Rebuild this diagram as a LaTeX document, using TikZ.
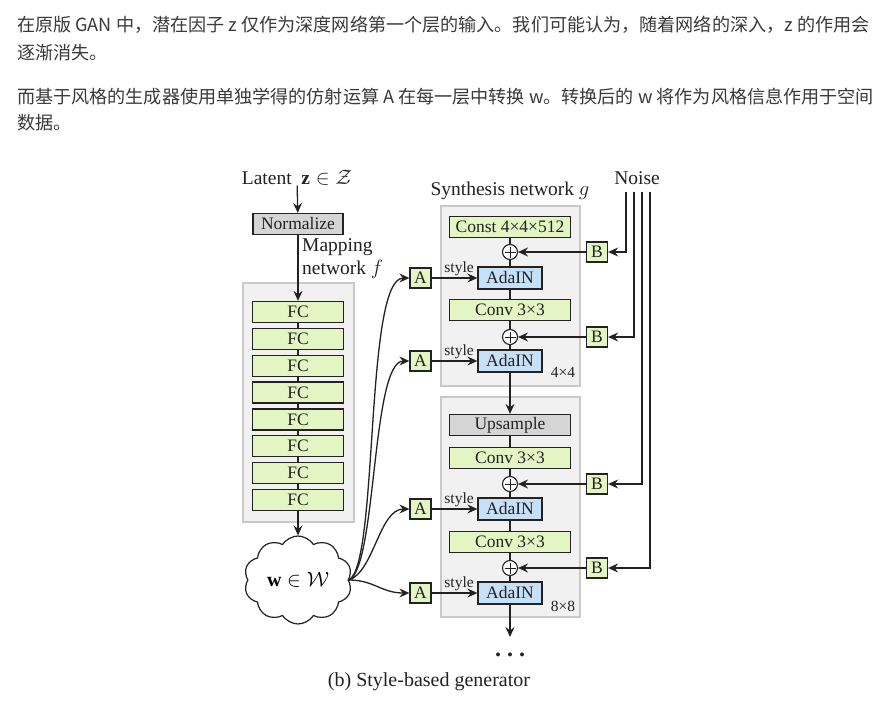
\documentclass[tikz,border=0pt]{standalone}
\usepackage{fontspec}
\setmainfont{Liberation Serif}
\newfontfamily\cjk{Noto Sans CJK SC}
\usepackage{amsmath}
\usepackage{amssymb}
\usetikzlibrary{positioning, calc, arrows.meta, shapes.symbols}

\begin{document}
\begin{tikzpicture}[
  x=1pt, y=-1pt,
  font=\fontsize{17.5}{20}\selectfont,
  arr/.style={-{Stealth[length=10pt, width=9pt, inset=3.5pt]}, line width=1.3pt, draw=cline},
  ln/.style={line width=1.3pt, draw=cline},
  blk/.style={draw=cline, line width=1.3pt, inner sep=0pt, minimum height=21pt, text=cline},
  fcblk/.style={blk, fill=cfc, minimum width=91pt},
  wideblk/.style={blk, fill=cfc, minimum width=121pt},
  adablk/.style={blk, fill=cada, minimum width=64pt, minimum height=22pt},
  grayblk/.style={blk, fill=cgray},
  affblk/.style={blk, fill=cfc, minimum width=21pt, minimum height=20pt},
  plusnode/.style={circle, draw=cline, fill=white, line width=1.1pt, minimum size=15pt, inner sep=0pt,
    path picture={
      \draw[cline, line width=0.9pt] ([xshift=-5.5pt]path picture bounding box.center) -- ([xshift=5.5pt]path picture bounding box.center);
      \draw[cline, line width=0.9pt] ([yshift=-5.5pt]path picture bounding box.center) -- ([yshift=5.5pt]path picture bounding box.center);
    }},
  panel/.style={fill=cpanel, draw=cpanelb, line width=1.4pt},
  lbl/.style={font=\fontsize{19.5}{23}\selectfont, inner sep=0pt, text=cline},
  small/.style={font=\fontsize{15.5}{17}\selectfont, inner sep=1.5pt, text=cline},
]
\definecolor{ctext}{HTML}{3A3A3A}   % page text
\definecolor{cline}{HTML}{222222}   % strokes
\definecolor{cfc}{HTML}{E3F5C2}     % green blocks
\definecolor{cada}{HTML}{C6E0F7}    % AdaIN blocks
\definecolor{cgray}{HTML}{D5D5D5}   % Normalize / Upsample
\definecolor{cpanel}{HTML}{F1F1F1}  % panel fill
\definecolor{cpanelb}{HTML}{C9C9C9} % panel border

\useasboundingbox[fill=white] (0,0) rectangle (896,722);

% =====================================================================
% page text above the figure
% =====================================================================
\begin{scope}[every node/.style={anchor=west, inner sep=0pt, text=ctext, font=\cjk\fontsize{18.1}{20}\selectfont}]
  \node (t1) at (17,25) {在原版 GAN 中，潜在因子 z 仅作为深度网络第一个层的输入。我们可能认为，随着网络的深入，z 的作用会};
  \node (t2) at (17,53) {逐渐消失。};
  \node (t3) at (17,97) {而基于风格的生成器使用单独学得的仿射运算 A 在每一层中转换 w。转换后的 w 将作为风格信息作用于空间};
  \node (t4) at (17,123) {数据。};
\end{scope}

% =====================================================================
% panels (behind)
% =====================================================================
\draw[panel] (243,283) rectangle (354,522);
\draw[panel] (441,206) rectangle (580,386);
\draw[panel] (441,397) rectangle (580,617);

% =====================================================================
% mapping network
% =====================================================================
\node[lbl] (latent) at (297,178) {Latent\ \ $\mathbf{z}\in\mathcal{Z}$};
\node[grayblk, minimum width=90pt] (norm) at (298,224) {Normalize};
\node[lbl, anchor=west, align=left] (mapl) at (302,259) {Mapping\\network $f$};

\foreach \i in {1,...,8} {
  \pgfmathsetmacro{\yy}{312+26.85*(\i-1)}
  \node[fcblk] (fc\i) at (298,\yy) {FC};
}
\foreach \i [evaluate=\i as \j using int(\i+1)] in {1,...,7}
  \draw[ln] (fc\i) -- (fc\j);

\node[cloud, draw=cline, line width=1.2pt, fill=white, cloud puffs=10, cloud puff arc=115,
      aspect=1.25, minimum width=108pt, minimum height=88pt, inner sep=0pt,
      font=\fontsize{20}{24}\selectfont] (w) at (298,580) {$\mathbf{w}\in\mathcal{W}$};

\draw[arr] (latent) -- (norm);
\draw[arr] (norm) -- (fc1);
\draw[arr] (fc8) -- (w);

% =====================================================================
% synthesis network
% =====================================================================
\node[lbl] (synl) at (510,191) {Synthesis network $g$};
\node[lbl] (noisel) at (637,178) {Noise};

\node[wideblk] (const) at (510,227) {Const 4×4×512};
\node[plusnode] (p1) at (510,252) {};
\node[adablk] (ada1) at (510,278) {AdaIN};
\node[wideblk] (conv1) at (510,310) {Conv 3×3};
\node[plusnode] (p2) at (510,337) {};
\node[adablk] (ada2) at (510,361) {AdaIN};
\node[small] (r4) at (563,372) {4×4};

\node[grayblk, minimum width=121pt] (up) at (510,425) {Upsample};
\node[wideblk] (conv2) at (510,458) {Conv 3×3};
\node[plusnode] (p3) at (510,484) {};
\node[adablk] (ada3) at (510,509) {AdaIN};
\node[wideblk] (conv3) at (510,542) {Conv 3×3};
\node[plusnode] (p4) at (510,568) {};
\node[adablk] (ada4) at (510,593) {AdaIN};
\node[small] (r8) at (563,606) {8×8};

\draw[ln] (const) -- (p1) -- (ada1) -- (conv1) -- (p2) -- (ada2);
\draw[arr] (ada2) -- (up);
\draw[ln] (up) -- (conv2) -- (p3) -- (ada3) -- (conv3) -- (p4) -- (ada4);
\coordinate (gout) at (510,637);
\draw[arr] (ada4) -- (gout);
\node[anchor=base, font=\bfseries\fontsize{24}{26}\selectfont, text=cline] (dots) at (510,656) {.\ .\ .};

% styles A and noise B
\foreach \i/\ya/\yb/\xn in {1/278/252/626, 2/361/337/634, 3/509/484/642, 4/593/568/650} {
  \node[affblk] (A\i) at (420.5,\ya) {A};
  \node[affblk] (B\i) at (597,\yb) {B};
  \coordinate (n\i) at (\xn,192);
  \draw[arr] (A\i) -- node[small, above, pos=0.6] {style} (ada\i);
  \draw[arr] (B\i) -- (p\i);
  \draw[arr] (n\i) |- (B\i);
}

% w to the affine blocks
\draw[arr] (w.east) .. controls +(30,-15) and +(-45,0) .. (A1.west);
\draw[arr] (w.east) .. controls +(28,-12) and +(-38,0) .. (A2.west);
\draw[arr] (w.east) .. controls +(25,-8) and +(-30,0) .. (A3.west);
\draw[arr] (w.east) .. controls +(25,0) and +(-28,0) .. (A4.west);

\node[font=\fontsize{20}{24}\selectfont, text=cline] (cap) at (429,682) {(b) Style-based generator};

\end{tikzpicture}
\end{document}
